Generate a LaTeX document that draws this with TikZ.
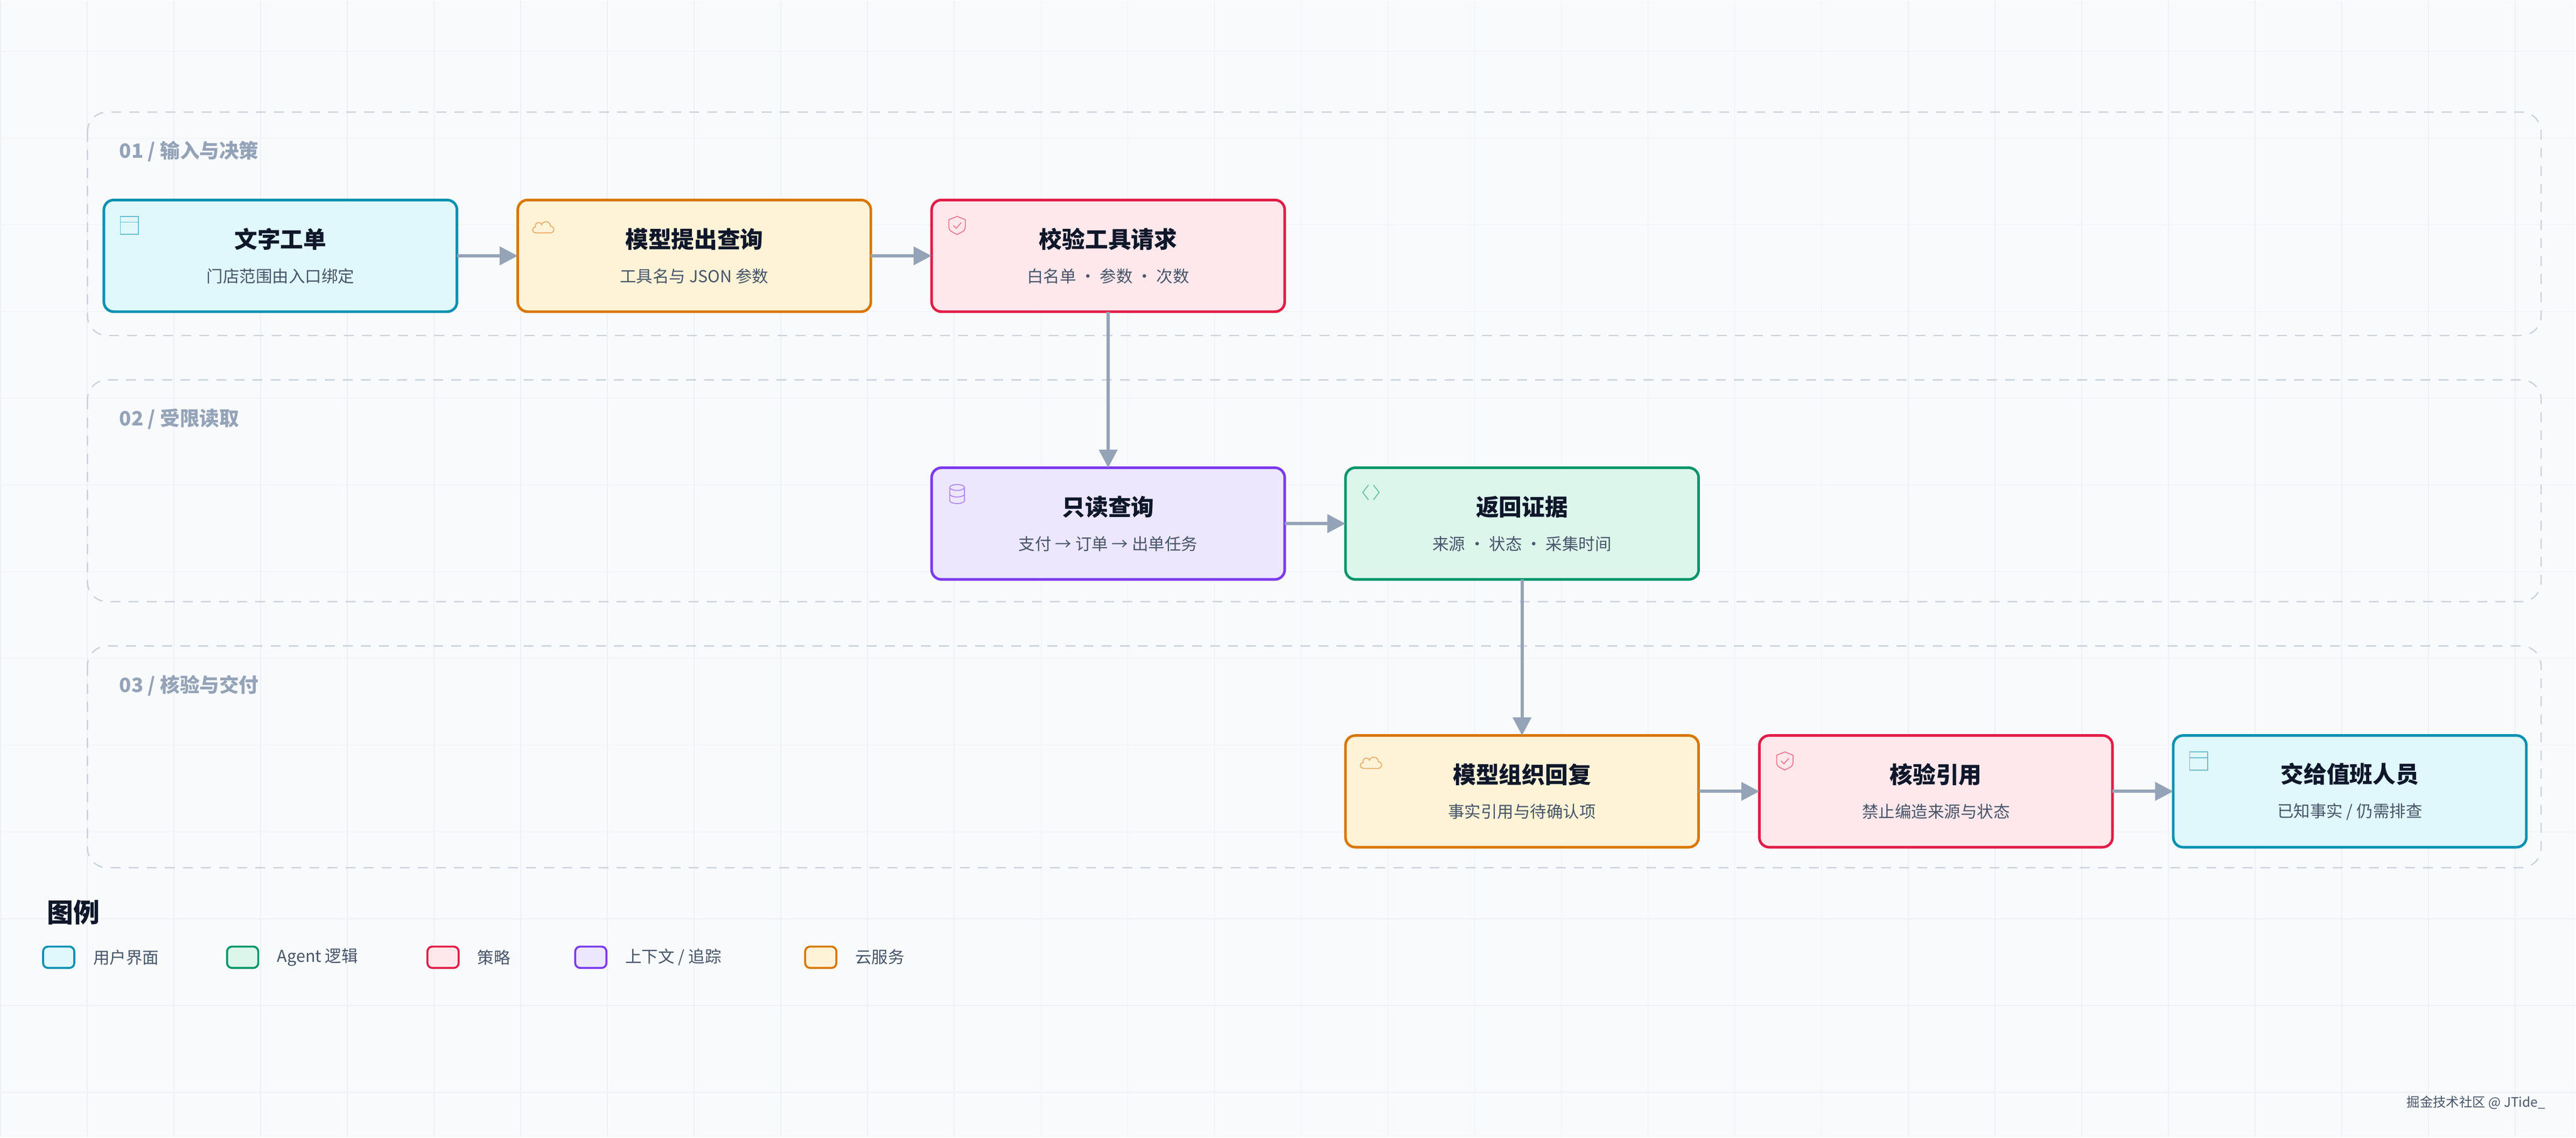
\documentclass[tikz,border=0pt]{standalone}
\usepackage{fontspec}
\setmainfont{Noto Sans CJK SC}
\usetikzlibrary{arrows.meta, positioning, calc}

\definecolor{bgc}{HTML}{F8FAFC}
\definecolor{gridc}{HTML}{EDF0F4}
\definecolor{lanec}{HTML}{CBD2DB}
\definecolor{lanetxt}{HTML}{94A3B8}
\definecolor{arrowc}{HTML}{94A3B8}
\definecolor{titlec}{HTML}{0F172A}
\definecolor{subc}{HTML}{475569}
\definecolor{uiD}{HTML}{0891B2}\definecolor{uiF}{HTML}{E0F7FB}
\definecolor{agD}{HTML}{059669}\definecolor{agF}{HTML}{DCF6EC}
\definecolor{poD}{HTML}{E11D48}\definecolor{poF}{HTML}{FFE8EC}
\definecolor{ctD}{HTML}{7C3AED}\definecolor{ctF}{HTML}{EDE7FE}
\definecolor{clD}{HTML}{D97706}\definecolor{clF}{HTML}{FEF3D7}

\newcommand{\boxtext}[2]{{\fontsize{14}{14}\selectfont\bfseries\color{titlec}#1}\\[9pt]{\fontsize{10}{10}\selectfont\color{subc}#2}}

\begin{document}
\begin{tikzpicture}[x=1pt, y=-1pt,
    lane/.style={draw=lanec, dashed, dash pattern=on 6pt off 5pt, line width=0.8pt, rounded corners=12pt},
    lanelabel/.style={anchor=west, font=\fontsize{12}{12}\selectfont\bfseries, text=lanetxt},
    flowbox/.style={rectangle, rounded corners=6pt, line width=1.6pt, minimum width=215pt, minimum height=68pt, inner sep=0pt, outer sep=0pt, align=center},
    ui/.style={flowbox, draw=uiD, fill=uiF},
    agent/.style={flowbox, draw=agD, fill=agF},
    policy/.style={flowbox, draw=poD, fill=poF},
    ctx/.style={flowbox, draw=ctD, fill=ctF},
    cloud/.style={flowbox, draw=clD, fill=clF},
    arrow/.style={-{Triangle[length=11pt, width=11pt]}, line width=2pt, draw=arrowc},
    icon/.style={line width=0.6pt},
    key/.style={rectangle, rounded corners=3pt, line width=1.2pt, minimum width=19pt, minimum height=13pt, inner sep=0pt},
    keytext/.style={anchor=west, font=\fontsize{10}{10}\selectfont, text=subc},
    node distance=37pt
]
% background and grid
\fill[bgc] (0,0) rectangle (1568,692);
\foreach \gx in {0,52.8,...,1568} \draw[gridc, line width=0.5pt] (\gx,0) -- (\gx,692);
\foreach \gy in {31,83.8,...,692} \draw[gridc, line width=0.5pt] (0,\gy) -- (1568,\gy);
\useasboundingbox (0,0) rectangle (1568,692);

% lanes
\draw[lane] (53,68) rectangle (1547,204);
\draw[lane] (53,231) rectangle (1547,366);
\draw[lane] (53,393) rectangle (1547,528);
\node[lanelabel] (lane1) at (69,92) {01 / 输入与决策};
\node[lanelabel] (lane2) at (69,255) {02 / 受限读取};
\node[lanelabel] (lane3) at (69,417) {03 / 核验与交付};

% steps
\node[ui] (ticket) at (170.5,155.5) {\boxtext{文字工单}{门店范围由入口绑定}};
\node[cloud, right=of ticket] (propose) {\boxtext{模型提出查询}{工具名与 JSON 参数}};
\node[policy, right=of propose] (check) {\boxtext{校验工具请求}{白名单 · 参数 · 次数}};
\node[ctx, below=95pt of check] (query) {\boxtext{只读查询}{支付 → 订单 → 出单任务}};
\node[agent, right=of query] (evidence) {\boxtext{返回证据}{来源 · 状态 · 采集时间}};
\node[cloud, below=95pt of evidence] (reply) {\boxtext{模型组织回复}{事实引用与待确认项}};
\node[policy, right=of reply] (cite) {\boxtext{核验引用}{禁止编造来源与状态}};
\node[ui, right=of cite] (handoff) {\boxtext{交给值班人员}{已知事实 / 仍需排查}};

% icons
\foreach \n in {ticket, handoff} {
  \draw[icon, uiD!60] ($(\n.north west)+(10,10)$) rectangle ($(\n.north west)+(21,21)$);
  \draw[icon, uiD!60] ($(\n.north west)+(10,13.5)$) -- ($(\n.north west)+(21,13.5)$);
}
\foreach \n in {propose, reply} {
  \begin{scope}[shift={($(\n.north west)+(12,20)$)}, yscale=-1]
    \draw[icon, clD!60] (0,0) -- (8,0) arc[start angle=-90, end angle=90, radius=2]
      arc[start angle=0, end angle=160, radius=2.8] arc[start angle=20, end angle=200, radius=2]
      arc[start angle=90, end angle=270, radius=1.8] -- cycle;
  \end{scope}
}
\foreach \n in {check, cite} {
  \draw[icon, poD!60] ($(\n.north west)+(15.5,10)$) -- ($(\n.north west)+(20.5,12)$) -- ($(\n.north west)+(20.5,15)$)
    .. controls ($(\n.north west)+(20.5,18.5)$) .. ($(\n.north west)+(15.5,21)$)
    .. controls ($(\n.north west)+(10.5,18.5)$) .. ($(\n.north west)+(10.5,15)$) -- ($(\n.north west)+(10.5,12)$) -- cycle;
  \draw[icon, poD!60] ($(\n.north west)+(13.2,15.5)$) -- ($(\n.north west)+(15,17.2)$) -- ($(\n.north west)+(18,13.8)$);
}
\begin{scope}[shift={($(query.north west)+(15.5,12)$)}, yscale=-1]
  \draw[icon, ctD!60] (0,0) ellipse[x radius=4.5, y radius=1.8];
  \draw[icon, ctD!60] (-4.5,0) -- (-4.5,-8) arc[start angle=180, end angle=360, x radius=4.5, y radius=1.8] -- (4.5,0);
  \draw[icon, ctD!60] (-4.5,-4) arc[start angle=180, end angle=360, x radius=4.5, y radius=1.8];
\end{scope}
\draw[icon, agD!60] ($(evidence.north west)+(14,10.5)$) -- ($(evidence.north west)+(10.5,15)$) -- ($(evidence.north west)+(14,19.5)$);
\draw[icon, agD!60] ($(evidence.north west)+(17,10.5)$) -- ($(evidence.north west)+(20.5,15)$) -- ($(evidence.north west)+(17,19.5)$);

% arrows
\draw[arrow] (ticket) -- (propose);
\draw[arrow] (propose) -- (check);
\draw[arrow] (check) -- (query);
\draw[arrow] (query) -- (evidence);
\draw[arrow] (evidence) -- (reply);
\draw[arrow] (reply) -- (cite);
\draw[arrow] (cite) -- (handoff);

% legend
\node[anchor=west, font=\fontsize{16}{16}\selectfont\bfseries, text=titlec] (legend) at (25,555) {图例};
\node[key, draw=uiD, fill=uiF] (k1) at (35.5,582.5) {};
\node[keytext] at (53,582.5) {用户界面};
\node[key, draw=agD, fill=agF] (k2) at (147.5,582.5) {};
\node[keytext] at (165,582.5) {Agent 逻辑};
\node[key, draw=poD, fill=poF] (k3) at (269.5,582.5) {};
\node[keytext] at (287,582.5) {策略};
\node[key, draw=ctD, fill=ctF] (k4) at (359.5,582.5) {};
\node[keytext] at (377,582.5) {上下文 / 追踪};
\node[key, draw=clD, fill=clF] (k5) at (499.5,582.5) {};
\node[keytext] at (517,582.5) {云服务};

\node[anchor=east, font=\fontsize{8}{8}\selectfont, text=subc] (mark) at (1553,671) {掘金技术社区 @ JTide\_};
\end{tikzpicture}
\end{document}
